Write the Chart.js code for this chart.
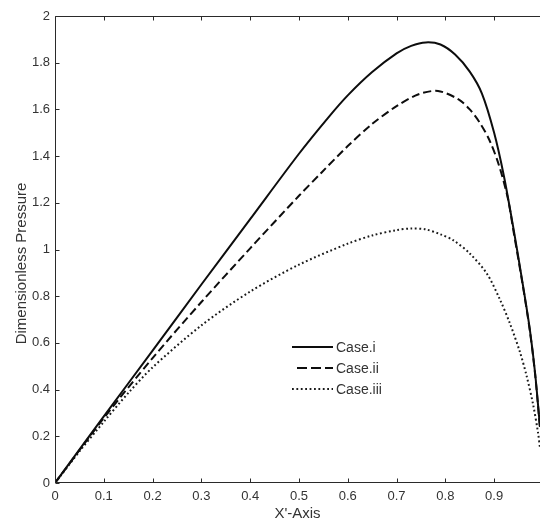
<!DOCTYPE html>
<html>
<head>
<meta charset="utf-8">
<script src="https://cdn.jsdelivr.net/npm/chart.js@4/dist/chart.umd.min.js"></script>
<style>
html,body{margin:0;padding:0;background:#fff;}
#wrap{width:540px;height:520px;position:relative;}
</style>
</head>
<body>
<div id="wrap"><canvas id="c" width="540" height="520"></canvas></div>
<script>
// ---- data ----
const seriesNames = ['Case.i', 'Case.ii', 'Case.iii'];

const caseIx = [0, 0.1, 0.2, 0.3, 0.4, 0.5, 0.56, 0.6, 0.65, 0.7, 0.73, 0.76, 0.79, 0.82, 0.85, 0.875, 0.9, 0.92, 0.94, 0.958, 0.973, 0.984, 0.994];
const caseIy = [0, 0.285, 0.567, 0.85, 1.13, 1.41, 1.565, 1.66, 1.76, 1.84, 1.872, 1.887, 1.878, 1.835, 1.762, 1.668, 1.5, 1.315, 1.085, 0.86, 0.66, 0.47, 0.24];

const caseIIx = [0, 0.1, 0.2, 0.3, 0.4, 0.5, 0.546, 0.6, 0.649, 0.7, 0.744, 0.785, 0.827, 0.85, 0.87, 0.89, 0.91, 0.928, 0.94, 0.958, 0.973, 0.984, 0.994];
const caseIIy = [0, 0.278, 0.535, 0.775, 1.005, 1.23, 1.329, 1.443, 1.536, 1.614, 1.664, 1.679, 1.643, 1.6, 1.545, 1.47, 1.36, 1.22, 1.075, 0.855, 0.655, 0.465, 0.235];

const caseIIIx = [0, 0.05, 0.1, 0.15, 0.2, 0.3, 0.4, 0.5, 0.6, 0.65, 0.7, 0.73, 0.76, 0.79, 0.816, 0.85, 0.885, 0.912, 0.932, 0.953, 0.967, 0.98, 0.99, 0.994];
const caseIIIy = [0, 0.135, 0.262, 0.385, 0.495, 0.675, 0.82, 0.935, 1.025, 1.06, 1.083, 1.09, 1.086, 1.065, 1.04, 0.983, 0.897, 0.785, 0.685, 0.56, 0.455, 0.335, 0.215, 0.15];

const xTickValues = [0, 0.1, 0.2, 0.3, 0.4, 0.5, 0.6, 0.7, 0.8, 0.9];
const yTickValues = [0, 0.2, 0.4, 0.6, 0.8, 1, 1.2, 1.4, 1.6, 1.8, 2];
const xMax = 0.994;

const xTitle = "X'-Axis";
const yTitle = 'Dimensionless Pressure';

// ---- build ----
function pts(xs, ys) { return xs.map((x, i) => ({x: x, y: ys[i]})); }

const styles = [
  {borderColor: '#0d0d0d', borderWidth: 2, borderDash: []},
  {borderColor: '#0d0d0d', borderWidth: 2, borderDash: [8, 4]},
  {borderColor: '#1a1a1a', borderWidth: 2, borderDash: [1.8, 2.6]}
];
const dataSets = [pts(caseIx, caseIy), pts(caseIIx, caseIIy), pts(caseIIIx, caseIIIy)];

const FONT = 'Liberation Sans, Arial, Helvetica, sans-serif';
const TXT = '#333';

const framePlugin = {
  id: 'frame',
  afterDraw(chart) {
    const {ctx, chartArea: a, scales: {x, y}} = chart;
    ctx.save();
    ctx.strokeStyle = '#2a2a2a';
    ctx.lineWidth = 1;
    const L = Math.round(a.left) + 0.5, T = Math.round(a.top) + 0.5, B = Math.round(a.bottom) - 0.5;
    ctx.beginPath();
    ctx.moveTo(a.right, T); ctx.lineTo(L, T); ctx.lineTo(L, B); ctx.lineTo(a.right, B);
    const tl = 4;
    xTickValues.forEach(v => {
      const px = Math.round(x.getPixelForValue(v)) + 0.5;
      ctx.moveTo(px, B); ctx.lineTo(px, B - tl);
      ctx.moveTo(px, T); ctx.lineTo(px, T + tl);
    });
    yTickValues.forEach(v => {
      const py = Math.round(y.getPixelForValue(v)) + 0.5;
      ctx.moveTo(L, py); ctx.lineTo(L + tl, py);
    });
    ctx.stroke();

    // y-axis title (sits a little below the axis centre, as in the reference)
    ctx.save();
    ctx.fillStyle = TXT;
    ctx.font = '15px ' + FONT;
    ctx.textAlign = 'center';
    ctx.textBaseline = 'middle';
    ctx.translate(22, (a.top + a.bottom) / 2 + 14);
    ctx.rotate(-Math.PI / 2);
    ctx.fillText(yTitle, 0, 0);
    ctx.restore();

    // legend
    const lx0 = 292, lx1 = 333, tx = 336;
    const rows = [347, 368, 389];
    ctx.font = '14px ' + FONT;
    ctx.textBaseline = 'middle';
    ctx.textAlign = 'left';
    chart.data.datasets.forEach((ds, i) => {
      ctx.save();
      ctx.strokeStyle = ds.borderColor;
      ctx.lineWidth = ds.borderWidth;
      ctx.setLineDash(i === 1 ? [10, 4] : (ds.borderDash || []));
      ctx.beginPath();
      ctx.moveTo(i === 1 ? lx0 + 5 : lx0, rows[i]); ctx.lineTo(lx1, rows[i]);
      ctx.stroke();
      ctx.restore();
      ctx.fillStyle = TXT;
      ctx.fillText(ds.label, tx, rows[i] + 1);
    });
    ctx.restore();
  }
};

new Chart(document.getElementById('c'), {
  type: 'scatter',
  data: {
    datasets: dataSets.map((d, i) => Object.assign({
      label: seriesNames[i],
      data: d,
      showLine: true,
      pointRadius: 0,
      pointHoverRadius: 0,
      fill: false,
      tension: 0.3
    }, styles[i]))
  },
  options: {
    responsive: false,
    animation: false,
    events: [],
    layout: {padding: {top: 16, right: 0, bottom: 0, left: 0}},
    plugins: {legend: {display: false}, tooltip: {enabled: false}},
    scales: {
      x: {
        type: 'linear', min: 0, max: xMax,
        grid: {display: false, drawTicks: false},
        border: {display: false},
        afterBuildTicks(s) { s.ticks = xTickValues.map(v => ({value: v})); },
        afterFit(s) { s.height = 37; },
        ticks: {color: TXT, font: {family: FONT, size: 13}, padding: 6, maxRotation: 0,
          callback: v => String(Math.round(v * 10) / 10)},
        title: {display: true, text: xTitle, color: TXT, font: {family: FONT, size: 15, lineHeight: 1}, padding: {top: 0, bottom: -1}}
      },
      y: {
        type: 'linear', min: 0, max: 2,
        grid: {display: false, drawTicks: false},
        border: {display: false},
        afterBuildTicks(s) { s.ticks = yTickValues.map(v => ({value: v})); },
        afterFit(s) { s.width = 55; },
        ticks: {color: TXT, font: {family: FONT, size: 13}, padding: 5,
          callback: v => String(Math.round(v * 10) / 10)},
        title: {display: false, text: yTitle}
      }
    }
  },
  plugins: [framePlugin]
});
</script>
</body>
</html>
